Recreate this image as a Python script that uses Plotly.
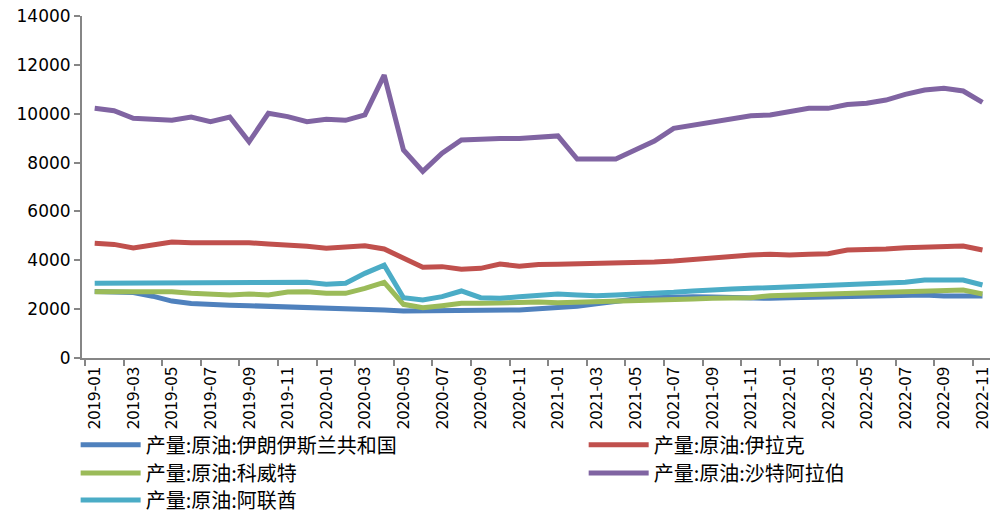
import plotly.graph_objects as go

months = [f"{y}-{m:02d}" for y in (2019, 2020, 2021, 2022) for m in range(1, 13)][:47]

iran = [2720, 2710, 2680, 2530, 2330, 2230, 2180, 2160, 2140, 2120, 2100, 2080,
        2060, 2034, 2006, 1965, 1924, 1924, 1924, 1924, 1924, 1937, 1965, 2020,
        2060, 2115, 2224, 2333, 2415, 2470, 2497, 2510, 2497, 2470, 2442, 2442,
        2470, 2483, 2497, 2510, 2510, 2524, 2538, 2579, 2538, 2538, 2538]
iraq = [4700, 4650, 4500, 4620, 4750, 4720, 4720, 4750, 4720, 4670, 4630, 4570,
        4490, 4557, 4598, 4462, 4080, 3712, 3740, 3630, 3670, 3848, 3760, 3830,
        3835, 3848, 3876, 3903, 3916, 3930, 3970, 4040, 4120, 4148, 4216, 4244,
        4216, 4244, 4271, 4421, 4421, 4462, 4517, 4530, 4530, 4585, 4421]
kuwait = [2715, 2715, 2715, 2715, 2715, 2647, 2620, 2580, 2620, 2580, 2700, 2715,
          2647, 2647, 2852, 3097, 2197, 2060, 2142, 2238, 2238, 2265, 2265, 2290,
          2265, 2280, 2306, 2306, 2333, 2360, 2388, 2415, 2442, 2442, 2470, 2552,
          2579, 2606, 2620, 2647, 2647, 2688, 2715, 2756, 2770, 2784, 2620]
saudi = [10220, 10125, 9810, 9785, 9730, 9865, 9675, 9865, 8850, 10015, 9880, 9675,
         9770, 9730, 9950, 11580, 8514, 7640, 8380, 8925, 8965, 8990, 8990, 9020,
         9090, 8145, 8145, 8145, 8515, 8880, 9400, 9540, 9675, 9785, 9920, 9950,
         10085, 10220, 10220, 10380, 10425, 10560, 10790, 10970, 11040, 10930, 10465]
uae = [3057, 3057, 3057, 3057, 3057, 3057, 3057, 3057, 3057, 3097, 3097, 3100,
       3015, 3057, 3466, 3800, 2470, 2374, 2510, 2743, 2470, 2442, 2510, 2579,
       2620, 2579, 2552, 2579, 2606, 2647, 2688, 2743, 2798, 2825, 2852, 2880,
       2920, 2947, 2961, 2988, 3015, 3043, 3097, 3193, 3193, 3193, 2988]

names = ["产量:原油:伊朗伊斯兰共和国", "产量:原油:伊拉克", "产量:原油:科威特",
         "产量:原油:沙特阿拉伯", "产量:原油:阿联酋"]
colors = ["#4F81BD", "#C0504D", "#9BBB59", "#8064A2", "#4BACC6"]
series = [iran, iraq, kuwait, saudi, uae]
legend_ids = ["legend", "legend2", "legend3", "legend4", "legend5"]

x_idx = list(range(len(months)))

fig = go.Figure()
for name, col, vals, lg in zip(names, colors, series, legend_ids):
    fig.add_trace(go.Scatter(x=x_idx, y=vals, name=name, mode="lines",
                             line=dict(color=col, width=5), legend=lg))

legend_font = dict(family="Noto Sans CJK SC", size=20, color="#000000")
common_legend = dict(orientation="v", yanchor="top", xanchor="left",
                     font=legend_font, itemwidth=60, bgcolor="rgba(0,0,0,0)")

col_x = [-0.007, 0.5525]
row_y = [-0.197, -0.279, -0.358]
legend_layout = {}
for i, lg in enumerate(legend_ids):
    legend_layout[lg] = dict(x=col_x[i % 2], y=row_y[i // 2], **common_legend)

fig.update_layout(
    width=993, height=513,
    margin=dict(l=82, r=3, t=16, b=155, autoexpand=False),
    paper_bgcolor="white", plot_bgcolor="white",
    showlegend=True,
    **legend_layout,
)
fig.update_xaxes(
    range=[-0.658, 46.39],
    tickmode="array", tickvals=x_idx[::2], ticktext=months[::2],
    tickangle=-90, ticks="", showgrid=False, zeroline=False,
    showline=True, linecolor="#868686", linewidth=2,
    tickfont=dict(family="Noto Sans CJK SC", size=17, color="#000000"),
    minor=dict(tickmode="linear", tick0=1.5, dtick=2, ticks="outside",
               ticklen=6, tickwidth=2, tickcolor="#868686", showgrid=False),
)
fig.update_yaxes(
    range=[0, 14000], tickmode="linear", tick0=0, dtick=2000, tickformat="d",
    ticks="outside", ticklen=6, tickwidth=2, tickcolor="#868686",
    showgrid=False, zeroline=False,
    showline=True, linecolor="#868686", linewidth=2,
    tickfont=dict(family="DejaVu Sans", size=17, color="#000000"),
)

fig.write_html("out.html")
